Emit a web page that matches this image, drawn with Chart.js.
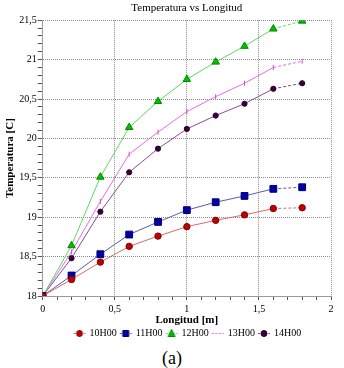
<!DOCTYPE html>
<html><head><meta charset="utf-8">
<script src="https://cdn.jsdelivr.net/npm/chart.js@4/dist/chart.umd.min.js"></script>
<style>
html,body{margin:0;padding:0;background:#fff;}
#wrap{position:relative;width:344px;height:348px;}
#cap{position:absolute;left:0;top:348px;width:344px;text-align:center;font:18px "Liberation Serif",serif;color:#000;}
</style></head>
<body>
<div id="wrap"><canvas id="c"></canvas></div>
<div id="cap">(a)</div>
<script>
const longitud = [0, 0.2, 0.4, 0.6, 0.8, 1.0, 1.2, 1.4, 1.6, 1.8];
const t10H00 = [18, 18.21, 18.43, 18.63, 18.76, 18.88, 18.96, 19.03, 19.11, 19.12];
const t11H00 = [18, 18.26, 18.53, 18.78, 18.94, 19.09, 19.19, 19.27, 19.36, 19.38];
const t12H00 = [18, 18.64, 19.51, 20.14, 20.47, 20.75, 20.97, 21.17, 21.39, 21.49];
const t13H00 = [18, 18.56, 19.20, 19.80, 20.08, 20.34, 20.53, 20.70, 20.90, 20.98];
const t14H00 = [18, 18.48, 19.07, 19.57, 19.87, 20.12, 20.29, 20.44, 20.63, 20.70];
const seriesNames = ['10H00', '11H00', '12H00', '13H00', '14H00'];
const xTickLabels = ['0', '0,5', '1', '1,5', '2'];
const yTickLabels = ['18', '18,5', '19', '19,5', '20', '20,5', '21', '21,5'];

const serif = '"Liberation Serif", "Times New Roman", serif';
const isMajor = v => Math.abs(v / 0.5 - Math.round(v / 0.5)) < 1e-6;

const styles = [
  {line: '#d86a6a', fill: '#c00000', border: '#800000', ps: 'circle', r: 3.2},
  {line: '#5a5ab8', fill: '#0000a8', border: '#000070', ps: 'rect', r: 4.8},
  {line: '#5ed85e', fill: '#00c000', border: '#008800', ps: 'triangle', r: 4.3},
  {line: '#e070e0', fill: '#e070e0', border: '#d050d0', ps: 'line', r: 2.5},
  {line: '#8a4a9a', fill: '#3a003a', border: '#2a002a', ps: 'circle', r: 2.6}
];
const values = [t10H00, t11H00, t12H00, t13H00, t14H00];

function makeIcon(s) {
  const cv = document.createElement('canvas');
  cv.width = 16; cv.height = 10;
  const g = cv.getContext('2d');
  g.strokeStyle = s.line; g.lineWidth = 1;
  g.setLineDash([2, 1.5]);
  g.beginPath(); g.moveTo(3, 5.5); g.lineTo(15, 5.5); g.stroke();
  g.setLineDash([]);
  if (s.ps !== 'line') {
    g.fillStyle = s.fill; g.strokeStyle = s.border;
    g.beginPath();
    if (s.ps === 'circle') g.arc(9, 5.5, 3, 0, Math.PI * 2);
    else if (s.ps === 'rect') g.rect(6, 2.5, 6, 6);
    else { g.moveTo(9, 1.5); g.lineTo(12.5, 8.5); g.lineTo(5.5, 8.5); g.closePath(); }
    g.fill(); g.stroke();
  }
  return cv;
}
const icons = styles.map(makeIcon);

const datasets = seriesNames.map((name, i) => ({
  label: name,
  data: longitud.map((x, j) => ({x: x, y: values[i][j]})),
  borderColor: styles[i].line,
  backgroundColor: styles[i].fill,
  pointBackgroundColor: styles[i].fill,
  pointBorderColor: styles[i].border,
  pointStyle: styles[i].ps,
  pointRadius: styles[i].r,
  pointRotation: styles[i].ps === 'line' ? 90 : 0,
  pointBorderWidth: 1,
  borderWidth: 1,
  tension: 0,
  segment: { borderDash: c => c.p1DataIndex === longitud.length - 1 ? [3, 2] : undefined }
}));

const gridColor = c => (c.tick && isMajor(c.tick.value)) ? '#8c8c8c' : 'rgba(0,0,0,0)';

new Chart(document.getElementById('c'), {
  type: 'line',
  data: { datasets },
  options: {
    responsive: true, maintainAspectRatio: false, animation: false,
    layout: { padding: { left: 4, right: 13, top: 0, bottom: 0 } },
    plugins: {
      title: { display: true, fullSize: false, text: 'Temperatura vs Longitud', color: '#000',
        font: { family: serif, size: 11, weight: 'normal' }, padding: { top: 2, bottom: 5 } },
      legend: { position: 'bottom', fullSize: false,
        labels: { usePointStyle: true, pointStyleWidth: 12, boxHeight: 10, padding: 2,
          color: '#000', font: { family: serif, size: 10 },
          generateLabels: chart => Chart.defaults.plugins.legend.labels.generateLabels(chart)
            .map((it, i) => Object.assign(it, { pointStyle: icons[i], rotation: 0 })) } },
      tooltip: { enabled: false }
    },
    scales: {
      x: { type: 'linear', min: 0, max: 2,
        ticks: { stepSize: 0.1, autoSkip: false, maxRotation: 0, padding: 4, color: '#000',
          font: { family: serif, size: 10, lineHeight: 1 },
          callback: v => isMajor(v) ? xTickLabels[Math.round(v / 0.5)] : '' },
        grid: { color: gridColor, tickColor: '#555', tickLength: 4, lineWidth: 1 },
        border: { display: true, color: '#9a9a9a', width: 1, dash: [1, 1] },
        title: { display: true, text: 'Longitud [m]', color: '#000',
          font: { family: serif, size: 11, weight: 'bold', lineHeight: 1 }, padding: { top: -3, bottom: 0 } } },
      y: { min: 18, max: 21.5,
        ticks: { stepSize: 0.1, autoSkip: false, padding: 1, color: '#000',
          font: { family: serif, size: 10 },
          callback: v => isMajor(v) ? yTickLabels[Math.round((v - 18) / 0.5)] : '' },
        grid: { color: gridColor, tickColor: '#555', tickLength: 5, lineWidth: 1 },
        border: { display: true, color: '#9a9a9a', width: 1, dash: [1, 1] },
        title: { display: true, text: 'Temperatura [C]', color: '#000',
          font: { family: serif, size: 11, weight: 'bold' }, padding: { top: 0, bottom: 1 } } }
    }
  }
});
</script>
</body></html>
